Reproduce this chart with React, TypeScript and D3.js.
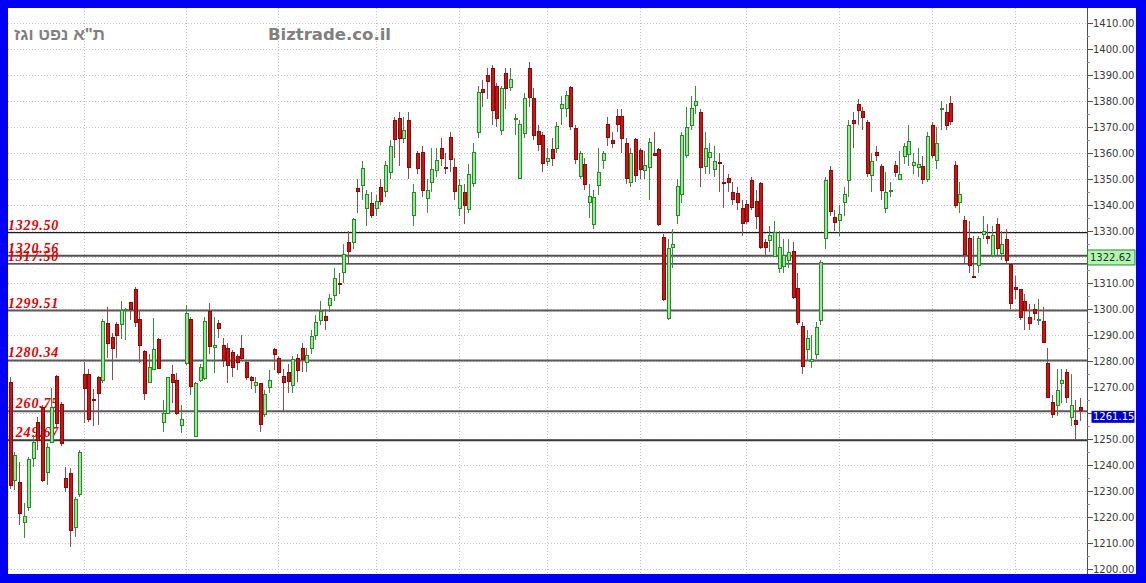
import React from 'react';
import * as d3 from 'd3';

const opens = [
  1272.2, 1234.3, 1233.7, 1218.3, 1223.8, 1242.7, 1256.8, 1262.5, 1237.5, 1249.1,
  1274.3, 1263.6, 1235.0, 1237.2, 1216.4, 1228.9, 1275.0, 1275.1, 1265.4, 1274.1,
  1272.8, 1294.6, 1289.5, 1294.3, 1294.3, 1299.6, 1302.9, 1308.0, 1296.1, 1284.1,
  1272.2, 1276.9, 1288.4, 1256.6, 1260.0, 1275.1, 1273.0, 1255.5, 1279.2, 1296.1,
  1251.3, 1272.8, 1273.4, 1299.5, 1285.5, 1294.8, 1286.3, 1285.0, 1283.7, 1282.0,
  1285.0, 1279.8, 1274.1, 1270.9, 1271.5, 1259.7, 1270.2, 1284.6, 1281.1, 1274.5,
  1276.0, 1270.9, 1281.1, 1285.0, 1279.9, 1285.0, 1290.1, 1295.9, 1297.4, 1301.6,
  1305.5, 1310.0, 1314.5, 1326.0, 1326.0, 1346.5, 1347.8, 1339.1, 1340.8, 1339.1,
  1347.2, 1345.5, 1352.7, 1372.8, 1373.4, 1366.0, 1372.8, 1336.3, 1360.0, 1360.6,
  1342.7, 1349.1, 1353.6, 1362.2, 1354.9, 1366.4, 1354.6, 1338.8, 1345.0, 1338.6,
  1348.4, 1368.1, 1384.7, 1390.1, 1392.9, 1386.0, 1369.0, 1390.7, 1385.4, 1373.2,
  1350.4, 1367.7, 1392.7, 1381.1, 1368.6, 1367.0, 1357.0, 1361.6, 1361.9, 1377.3,
  1377.3, 1385.6, 1369.6, 1351.4, 1355.7, 1341.4, 1332.7, 1347.8, 1357.4, 1371.1,
  1365.1, 1374.5, 1374.5, 1363.8, 1348.8, 1365.5, 1361.2, 1353.6, 1354.9, 1360.0,
  1361.6, 1327.9, 1296.8, 1324.0, 1336.3, 1344.2, 1359.3, 1370.9, 1378.6, 1375.7,
  1355.2, 1358.7, 1354.0, 1356.8, 1348.9, 1350.6, 1345.2, 1344.6, 1339.1, 1340.4,
  1349.7, 1341.6, 1348.4, 1325.7, 1326.6, 1320.6, 1315.8, 1316.8, 1319.0, 1322.4,
  1308.3, 1293.7, 1284.7, 1280.3, 1282.7, 1295.9, 1327.5, 1353.5, 1335.6, 1334.3,
  1341.4, 1349.7, 1373.0, 1378.9, 1376.4, 1372.1, 1351.6, 1360.6, 1355.1, 1338.8,
  1345.6, 1355.5, 1350.0, 1358.9, 1359.9, 1355.5, 1354.8, 1355.1, 1350.3, 1370.8,
  1357.4, 1376.9, 1376.0, 1379.2, 1355.5, 1341.4, 1334.3, 1327.6, 1313.0, 1317.0,
  1328.9, 1328.0, 1320.8, 1332.8, 1321.5, 1327.2, 1317.4, 1308.4, 1307.8, 1303.1,
  1296.9, 1300.3, 1295.9, 1295.5, 1279.4, 1264.4, 1263.2, 1271.7, 1276.0, 1258.7,
  1257.6, 1262.3,
];

const highs = [
  1274.0, 1245.2, 1241.4, 1225.4, 1243.3, 1251.6, 1258.7, 1263.2, 1248.4, 1269.6,
  1274.7, 1264.5, 1239.5, 1238.8, 1227.9, 1245.8, 1279.8, 1276.9, 1269.2, 1274.4,
  1296.1, 1300.7, 1290.8, 1295.2, 1303.3, 1300.4, 1302.9, 1308.7, 1299.7, 1284.4,
  1283.0, 1296.5, 1288.8, 1265.1, 1274.1, 1278.6, 1275.4, 1263.2, 1301.6, 1297.1,
  1272.2, 1279.0, 1297.1, 1302.3, 1297.1, 1295.9, 1288.8, 1286.9, 1284.3, 1283.0,
  1290.1, 1280.5, 1274.4, 1274.1, 1271.8, 1268.9, 1276.6, 1285.0, 1282.0, 1277.0,
  1279.0, 1282.0, 1283.0, 1287.0, 1285.0, 1292.0, 1298.0, 1303.0, 1300.0, 1306.0,
  1316.0, 1314.0, 1325.0, 1330.0, 1335.0, 1350.0, 1357.0, 1346.0, 1345.0, 1344.0,
  1350.0, 1357.0, 1365.0, 1374.0, 1376.0, 1374.0, 1376.0, 1348.0, 1361.0, 1363.0,
  1350.0, 1362.0, 1362.0, 1366.0, 1360.0, 1368.0, 1358.0, 1350.0, 1348.0, 1356.0,
  1364.0, 1386.0, 1388.0, 1393.0, 1394.0, 1387.0, 1386.0, 1393.0, 1393.0, 1375.0,
  1373.0, 1383.0, 1395.0, 1385.0, 1371.0, 1368.0, 1362.0, 1366.0, 1372.0, 1382.0,
  1384.0, 1386.0, 1371.0, 1361.0, 1358.0, 1348.0, 1346.0, 1362.0, 1361.0, 1374.0,
  1368.0, 1377.0, 1377.0, 1366.0, 1362.0, 1366.0, 1362.0, 1361.0, 1366.0, 1368.0,
  1362.0, 1329.0, 1327.0, 1331.0, 1350.0, 1368.0, 1378.0, 1382.0, 1386.0, 1377.0,
  1368.0, 1364.0, 1363.0, 1360.0, 1355.5, 1352.0, 1349.0, 1347.0, 1342.0, 1342.0,
  1351.0, 1346.0, 1349.0, 1327.0, 1332.0, 1334.0, 1330.0, 1327.0, 1327.0, 1326.0,
  1314.0, 1295.0, 1292.0, 1290.0, 1295.0, 1319.0, 1351.0, 1355.0, 1338.0, 1340.0,
  1347.0, 1373.0, 1376.0, 1381.0, 1378.0, 1373.0, 1360.0, 1363.0, 1356.0, 1353.0,
  1349.0, 1357.0, 1361.0, 1364.0, 1371.0, 1360.0, 1362.0, 1359.0, 1368.0, 1372.0,
  1370.0, 1380.0, 1379.0, 1382.0, 1357.0, 1349.0, 1336.0, 1334.0, 1328.0, 1328.0,
  1336.0, 1333.0, 1332.0, 1335.0, 1330.0, 1331.0, 1318.0, 1313.0, 1308.0, 1306.0,
  1302.0, 1302.0, 1304.0, 1301.0, 1285.0, 1267.0, 1277.0, 1277.0, 1277.0, 1275.0,
  1265.0, 1266.0,
];

const lows = [
  1231.0, 1230.5, 1217.0, 1211.9, 1222.5, 1239.5, 1245.9, 1233.7, 1232.4, 1248.4,
  1254.8, 1247.5, 1229.8, 1208.7, 1212.5, 1228.0, 1256.1, 1256.8, 1255.1, 1255.5,
  1271.5, 1281.1, 1273.0, 1281.1, 1288.4, 1288.2, 1295.9, 1293.2, 1279.5, 1265.0,
  1271.5, 1276.6, 1277.3, 1252.9, 1259.7, 1263.8, 1259.5, 1252.3, 1278.6, 1267.0,
  1251.0, 1272.2, 1272.8, 1283.0, 1275.4, 1288.8, 1277.9, 1271.5, 1274.1, 1276.6,
  1280.5, 1272.8, 1269.2, 1267.7, 1252.9, 1258.7, 1267.7, 1276.6, 1275.0, 1261.0,
  1268.0, 1268.0, 1272.0, 1276.0, 1276.0, 1283.0, 1288.0, 1294.0, 1292.0, 1299.0,
  1303.0, 1306.0, 1310.0, 1318.0, 1323.0, 1337.0, 1342.0, 1332.0, 1335.0, 1336.0,
  1340.0, 1343.0, 1350.0, 1358.0, 1355.0, 1364.0, 1350.0, 1332.0, 1352.0, 1343.0,
  1337.0, 1345.0, 1351.0, 1355.0, 1352.0, 1353.0, 1342.0, 1336.0, 1333.0, 1337.0,
  1347.0, 1366.0, 1378.0, 1381.0, 1371.0, 1370.0, 1367.0, 1377.0, 1384.0, 1367.0,
  1350.0, 1366.0, 1378.0, 1365.0, 1361.0, 1353.0, 1355.0, 1355.0, 1360.0, 1371.0,
  1374.0, 1369.0, 1356.0, 1350.0, 1346.0, 1335.0, 1331.0, 1344.0, 1354.0, 1363.0,
  1362.0, 1368.0, 1360.0, 1348.0, 1347.0, 1349.0, 1350.0, 1350.0, 1342.0, 1359.0,
  1332.0, 1303.0, 1296.0, 1316.0, 1333.0, 1341.0, 1358.0, 1369.0, 1375.0, 1347.0,
  1352.0, 1352.0, 1351.0, 1345.0, 1338.8, 1345.0, 1340.0, 1338.0, 1328.0, 1333.0,
  1338.0, 1331.0, 1323.0, 1320.0, 1322.0, 1320.0, 1314.0, 1314.0, 1316.0, 1304.0,
  1294.0, 1275.0, 1280.0, 1277.5, 1281.0, 1294.0, 1323.0, 1336.0, 1330.0, 1328.0,
  1336.0, 1343.0, 1362.0, 1371.0, 1369.0, 1351.0, 1345.0, 1357.0, 1342.0, 1337.0,
  1343.0, 1351.0, 1350.0, 1356.0, 1355.0, 1352.0, 1351.0, 1348.0, 1349.0, 1358.0,
  1354.0, 1369.0, 1369.0, 1371.0, 1339.0, 1337.0, 1318.0, 1314.0, 1312.0, 1314.0,
  1327.0, 1325.0, 1320.0, 1321.0, 1319.0, 1318.0, 1300.0, 1304.0, 1296.0, 1292.0,
  1292.0, 1296.0, 1294.0, 1287.0, 1266.0, 1258.0, 1259.0, 1264.0, 1264.0, 1255.0,
  1250.0, 1257.0,
];

const closes = [
  1232.4, 1243.9, 1221.5, 1220.5, 1242.3, 1249.1, 1249.7, 1234.3, 1247.2, 1262.5,
  1256.1, 1248.4, 1231.8, 1215.1, 1227.0, 1245.0, 1269.6, 1257.7, 1265.1, 1267.7,
  1295.6, 1287.2, 1285.3, 1290.0, 1299.7, 1300.3, 1300.0, 1295.2, 1286.3, 1267.9,
  1277.9, 1284.6, 1277.5, 1260.2, 1273.8, 1272.2, 1260.0, 1257.8, 1298.4, 1270.5,
  1271.8, 1277.9, 1295.6, 1285.9, 1286.4, 1292.7, 1280.5, 1278.6, 1277.7, 1279.8,
  1281.1, 1273.8, 1272.8, 1272.2, 1255.9, 1267.4, 1272.8, 1282.8, 1276.0, 1272.0,
  1272.4, 1280.9, 1276.6, 1280.9, 1282.4, 1289.9, 1295.2, 1299.3, 1295.9, 1304.2,
  1311.9, 1309.6, 1321.3, 1322.4, 1334.6, 1345.5, 1354.2, 1344.2, 1336.3, 1341.6,
  1341.6, 1355.5, 1362.9, 1365.5, 1365.7, 1369.0, 1354.9, 1345.2, 1354.2, 1345.9,
  1345.9, 1353.8, 1357.4, 1358.1, 1354.5, 1357.8, 1345.5, 1347.8, 1340.1, 1351.9,
  1360.4, 1383.4, 1383.4, 1387.8, 1376.6, 1373.4, 1385.0, 1385.0, 1388.6, 1373.6,
  1371.1, 1381.4, 1381.8, 1367.0, 1363.4, 1356.1, 1358.1, 1358.3, 1370.6, 1378.8,
  1382.4, 1370.6, 1357.8, 1360.0, 1348.1, 1343.7, 1343.3, 1352.9, 1360.0, 1366.4,
  1363.8, 1371.1, 1365.7, 1350.4, 1360.0, 1351.6, 1354.0, 1355.5, 1364.5, 1359.5,
  1332.7, 1304.0, 1323.5, 1325.0, 1347.5, 1367.0, 1370.2, 1377.3, 1380.1, 1354.9,
  1361.9, 1360.4, 1357.0, 1356.5, 1348.5, 1349.1, 1342.4, 1341.4, 1333.1, 1334.0,
  1339.5, 1336.0, 1324.1, 1324.1, 1328.6, 1329.9, 1324.1, 1320.9, 1322.2, 1304.9,
  1295.0, 1278.3, 1288.8, 1280.7, 1293.3, 1318.1, 1349.7, 1337.9, 1333.7, 1336.6,
  1344.3, 1370.8, 1371.5, 1376.6, 1374.0, 1352.3, 1357.1, 1359.3, 1345.8, 1345.2,
  1346.0, 1352.9, 1352.0, 1362.8, 1364.8, 1356.7, 1355.8, 1350.3, 1366.6, 1359.3,
  1363.8, 1377.4, 1370.8, 1372.5, 1340.1, 1344.3, 1321.2, 1317.0, 1312.6, 1327.3,
  1330.2, 1327.6, 1328.5, 1323.4, 1325.1, 1318.9, 1302.3, 1307.8, 1297.1, 1299.7,
  1294.8, 1298.7, 1296.3, 1287.5, 1266.1, 1259.9, 1268.9, 1272.8, 1266.4, 1263.2,
  1255.7, 1261.15,
];

const monthStartIdx = [16, 38, 58, 79, 97, 116, 136, 159, 179, 199, 217];
const levelValues = [1329.5, 1320.56, 1317.5, 1299.51, 1280.34, 1260.75, 1249.67];
const levelLabels = ['1329.50', '1320.56', '1317.50', '1299.51', '1280.34', '1260.75', '1249.67'];
const yTickValues = d3.range(1200, 1411, 10);
const yMinorValues = d3.range(1200, 1415, 5);
const lastPrice = 1261.15;
const refPrice = 1322.62;
const titleText = 'ת"א נפט וגז';
const siteText = 'Biztrade.co.il';

const W = 1146;
const H = 583;
const L = 8, T = 8, R = 1136, B = 574;
const AX = 1087;

const levelStyle = [
  { c: '#1a1a1a', w: 1.2 },
  { c: '#505050', w: 2 },
  { c: '#1a1a1a', w: 1.2 },
  { c: '#5a5a5a', w: 2 },
  { c: '#5a5a5a', w: 2 },
  { c: '#5a5a5a', w: 2 },
  { c: '#3a3a3a', w: 2 },
];

export default function App() {
  const y = d3.scaleLinear().domain([1200, 1410]).range([569.3, 23.3]);
  const x = d3.scaleLinear().domain([0, opens.length - 1]).range([9.67, 1079.9]);
  const ry = (v: number) => Math.round(y(v));
  const refCenter = y(refPrice) + 7;
  const lastCenter = y(lastPrice) + 6.5;
  const showTickLabel = (v: number) =>
    Math.abs(y(v) - refCenter) > 12 && Math.abs(y(v) - lastCenter) > 12;

  return (
    <svg width={W} height={H} style={{ position: 'absolute', left: 0, top: 0, display: 'block' }}>
      <rect x={0} y={0} width={W} height={H} fill="#0000f4" />
      <rect x={L} y={T} width={R - L} height={B - T} fill="#ffffff" />
      {yTickValues.map((v) => (
        <line key={'hg' + v} x1={L} x2={AX} y1={ry(v) + 0.5} y2={ry(v) + 0.5}
          stroke="#c4c4c4" strokeWidth={1} strokeDasharray="1,2" />
      ))}
      {monthStartIdx.map((i) => (
        <line key={'vg' + i} x1={Math.round(x(i)) + 0.5} x2={Math.round(x(i)) + 0.5} y1={T} y2={B}
          stroke="#c0c0c0" strokeWidth={1} strokeDasharray="1,2" />
      ))}
      {levelValues.map((v, i) => (
        <line key={'lv' + i} x1={L} x2={AX} y1={y(v)} y2={y(v)}
          stroke={levelStyle[i].c} strokeWidth={levelStyle[i].w} />
      ))}
      {levelValues.map((v, i) => (
        <text key={'ll' + i} x={8} y={y(v) - 3} fill="#e00000"
          fontFamily="'Liberation Serif', serif" fontWeight="bold" fontStyle="italic"
          fontSize={14} letterSpacing={0.8}>{levelLabels[i]}</text>
      ))}
      {opens.map((o, i) => {
        const c = closes[i];
        const up = c >= o;
        const cx = Math.round(x(i));
        const top = ry(Math.max(o, c));
        let bot = ry(Math.min(o, c));
        if (bot - top < 1) bot = top + 1;
        return (
          <g key={'c' + i}>
            <line x1={cx + 0.5} x2={cx + 0.5} y1={ry(highs[i])} y2={ry(lows[i])}
              stroke={up ? '#3a8f3a' : '#9a4a4a'} strokeWidth={1} />
            <rect x={cx - 0.5} y={top + 0.5} width={3} height={bot - top}
              fill={up ? '#93ec93' : '#d01212'} stroke={up ? '#2a8a2a' : '#8a0a0a'} strokeWidth={1} />
          </g>
        );
      })}
      <text x={105} y={40} textAnchor="end" fill="#808080" fontFamily="'Liberation Sans', 'DejaVu Sans', sans-serif"
        fontWeight="bold" fontSize={17}>{titleText}</text>
      <text x={268} y={40} fill="#808080" fontFamily="'DejaVu Sans', sans-serif"
        fontWeight="bold" fontSize={16.5}>{siteText}</text>
      <rect x={AX + 0.5} y={T} width={R - AX - 0.5} height={B - T} fill="#ffffff" />
      <line x1={AX + 0.5} x2={AX + 0.5} y1={T} y2={B} stroke="#505050" strokeWidth={1} />
      {yMinorValues.map((v) => (
        <line key={'mt' + v} x1={AX} x2={AX + 3} y1={ry(v) + 0.5} y2={ry(v) + 0.5}
          stroke="#909090" strokeWidth={1} />
      ))}
      {yTickValues.map((v) => (
        <g key={'yt' + v}>
          <line x1={AX} x2={AX + 6} y1={ry(v) + 0.5} y2={ry(v) + 0.5} stroke="#505050" strokeWidth={1} />
          {showTickLabel(v) && (
            <text x={1093} y={y(v)} dy="0.35em" fill="#3a3a3a" fontFamily="'DejaVu Sans', sans-serif"
              fontSize={10}>{v.toFixed(2)}</text>
          )}
        </g>
      ))}
      <rect x={AX + 0.5} y={y(refPrice) - 0.5} width={R - AX - 1.5} height={15}
        fill="#b6f2b6" stroke="#2a8a2a" strokeWidth={1} />
      <text x={1090} y={refCenter} dy="0.35em" fill="#0d3d0d" fontFamily="'DejaVu Sans', sans-serif"
        fontSize={10}>{refPrice.toFixed(2)}</text>
      <rect x={1091.5} y={y(lastPrice) + 0.5} width={43} height={12} fill="#0000cc" />
      <text x={1093} y={lastCenter} dy="0.35em" fill="#ffffff" fontFamily="'DejaVu Sans', sans-serif"
        fontSize={10}>{lastPrice.toFixed(2)}</text>
    </svg>
  );
}
